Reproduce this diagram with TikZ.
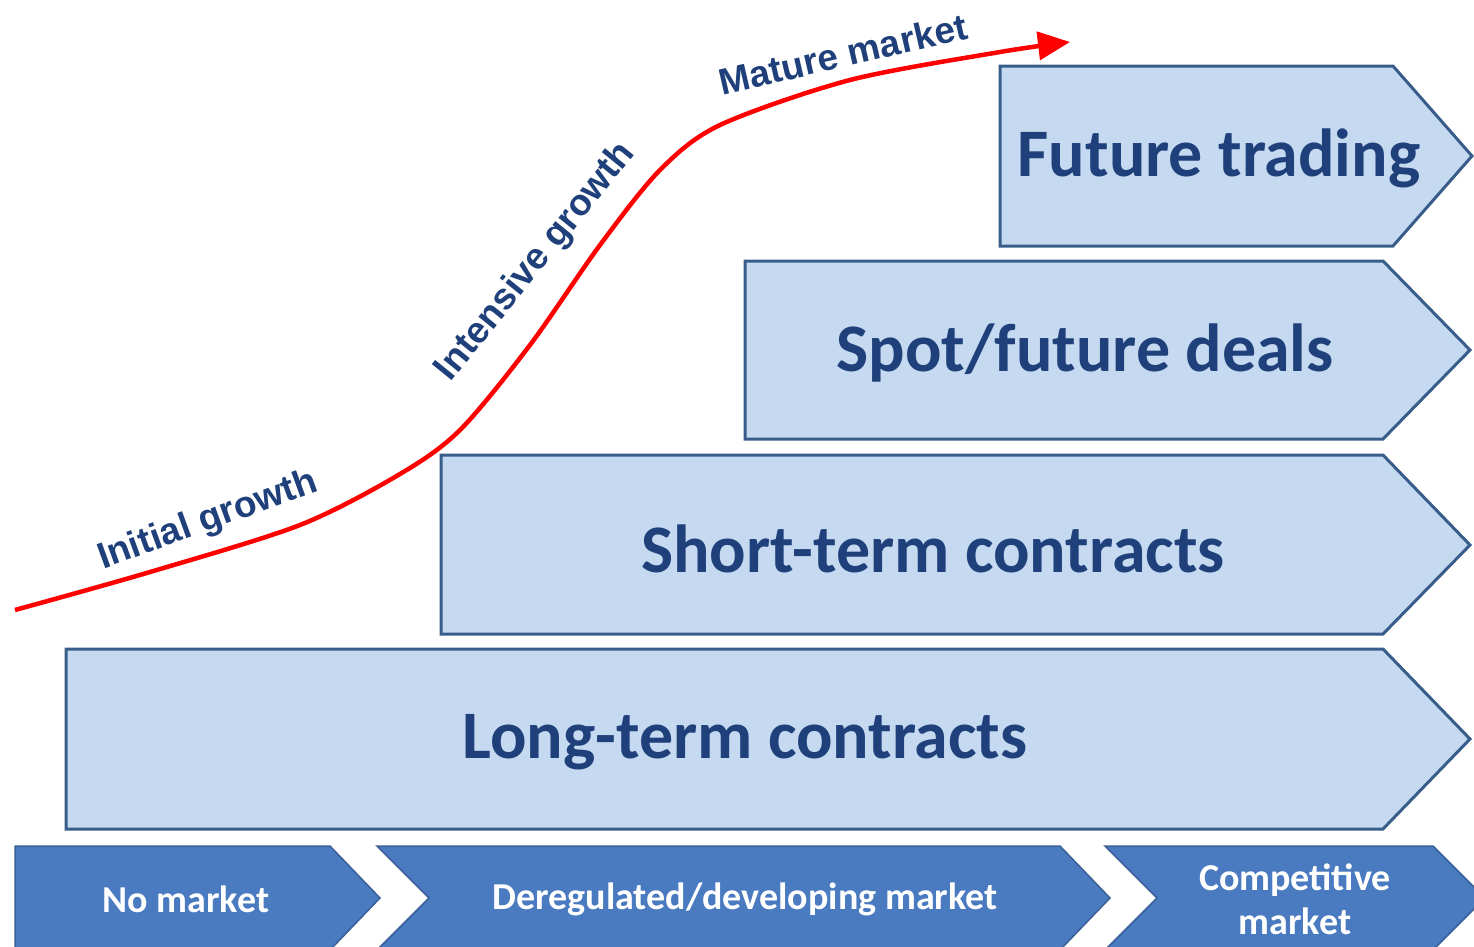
\documentclass[tikz,border=0pt]{standalone}
\usepackage{fontspec}
\setmainfont{Carlito}
\newfontfamily\curvefont{Liberation Sans}
\usetikzlibrary{arrows.meta}
\definecolor{stagefill}{RGB}{197,217,241}
\definecolor{stageline}{RGB}{56,93,138}
\definecolor{phasefill}{RGB}{74,123,192}
\definecolor{phaseline}{RGB}{58,96,150}
\definecolor{navy}{RGB}{31,64,122}
\begin{document}
\begin{tikzpicture}[x=1pt,y=-1pt,
    stage/.style={fill=stagefill,draw=stageline,line width=3pt},
    phase/.style={fill=phasefill,draw=phaseline,line width=1.5pt},
    stagetext/.style={text=navy,font=\fontsize{68}{70}\selectfont\bfseries},
    phasetext/.style={text=white,font=\fontsize{38}{44}\selectfont\bfseries,align=center},
    curvetext/.style={text=navy,font=\curvefont\fontsize{37}{38}\selectfont\bfseries}]
  \useasboundingbox (0,0) rectangle (1474,946);
  \clip (0,0) rectangle (1474,946);
  % stages
  \draw[stage] (1000,66) -- (1393,66) -- (1472,156) -- (1393,246) -- (1000,246) -- cycle;
  \node[stagetext] (ft) at (1219,158) {Future trading};
  \draw[stage] (745,261) -- (1383,261) -- (1470,350) -- (1383,439) -- (745,439) -- cycle;
  \node[stagetext] (sf) at (1085,353) {Spot/future deals};
  \draw[stage] (441,455) -- (1383,455) -- (1470,545) -- (1383,634) -- (441,634) -- cycle;
  \node[stagetext] (st) at (933,549) {Short-term contracts};
  \draw[stage] (66,649) -- (1383,649) -- (1470,739) -- (1383,829) -- (66,829) -- cycle;
  \node[stagetext] (lt) at (745,742) {Long-term contracts};
  % phases
  \draw[phase] (15,846) -- (330,846) -- (380,898) -- (330,950) -- (15,950) -- cycle;
  \node[phasetext] (nm) at (186,899) {No market};
  \draw[phase] (377,846) -- (1060,846) -- (1110,898) -- (1060,950) -- (377,950) -- (429,898) -- cycle;
  \node[phasetext] (dm) at (745,899) {Deregulated/developing market};
  \draw[phase] (1105,846) -- (1433,846) -- (1485,898) -- (1433,950) -- (1105,950) -- (1157,898) -- cycle;
  \node[phasetext] (cm) at (1295,899) {Competitive\\market};
  % growth curve
  \draw[red,line width=4.5pt,-{Triangle[length=32pt,width=28pt]}]
    plot[smooth] coordinates {(15,610) (150,572) (300,525) (400,474) (460,430) (530,345)
      (600,245) (660,170) (720,125) (850,80) (1000,52) (1070,42)};
  \node[curvetext,rotate=20] (ig) at (208,521) {Initial growth};
  \node[curvetext,rotate=51] (ng) at (536,262) {Intensive growth};
  \node[curvetext,rotate=13] (mm) at (843,54) {Mature market};
\end{tikzpicture}
\end{document}
